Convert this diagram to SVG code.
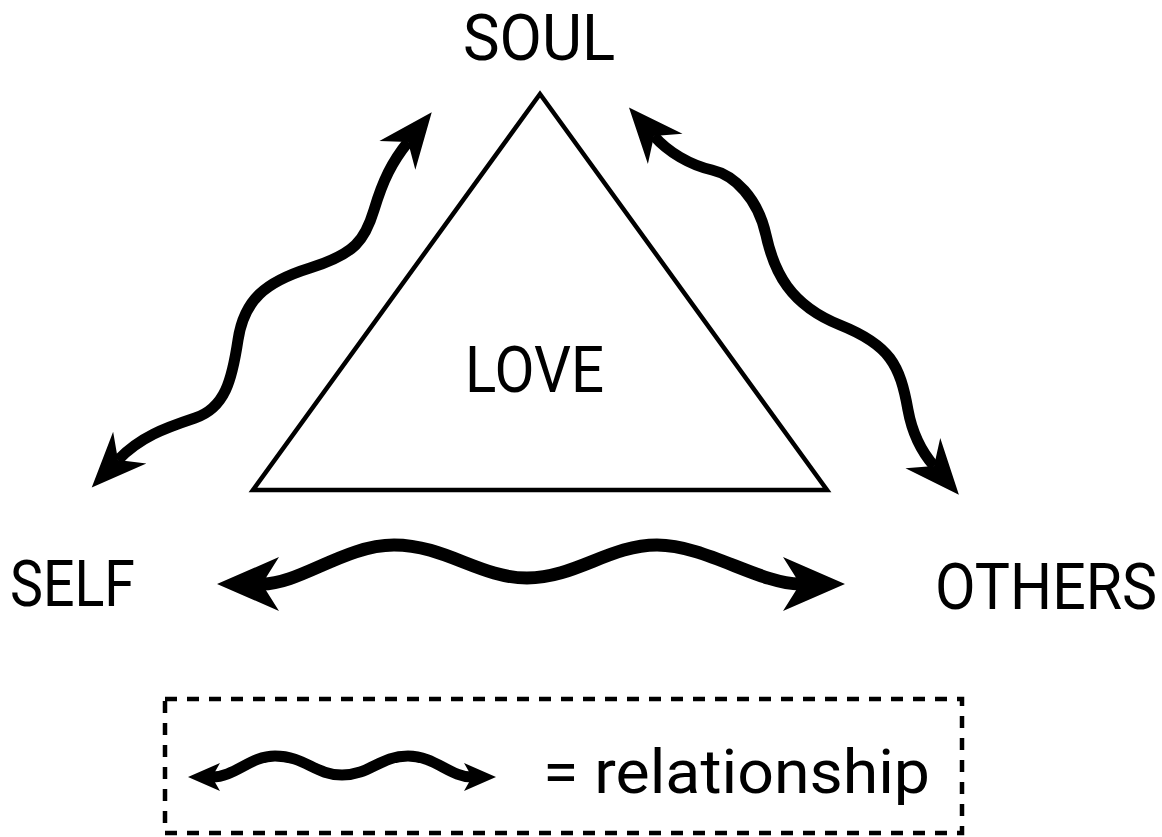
<svg xmlns="http://www.w3.org/2000/svg" width="1162" height="837" viewBox="0 0 1162 837">
  <style>
    .lbl { font-family: Roboto, "Liberation Sans", sans-serif; font-size: 65px; fill: #000; }
    .leg { font-family: Roboto, "Liberation Sans", sans-serif; font-size: 62px; fill: #000; }
    .wave { fill: none; stroke: #000; stroke-width: 11; }
    .wave-big { fill: none; stroke: #000; stroke-width: 13; }
    .wave-small { fill: none; stroke: #000; stroke-width: 11; }
  </style>
  <defs>
    <marker id="ah" markerUnits="userSpaceOnUse" markerWidth="200" markerHeight="200" refX="0" refY="0" orient="auto-start-reverse" overflow="visible">
      <path d="M38,0 L-17,-23 L0,0 L-17,23 Z" fill="#000"/>
    </marker>
    <marker id="ahbig" markerUnits="userSpaceOnUse" markerWidth="200" markerHeight="200" refX="0" refY="0" orient="auto-start-reverse" overflow="visible">
      <path d="M45,0 L-17,-27 L0,0 L-17,27 Z" fill="#000"/>
    </marker>
    <marker id="ahsmall" markerUnits="userSpaceOnUse" markerWidth="100" markerHeight="100" refX="0" refY="0" orient="auto-start-reverse" overflow="visible">
      <path d="M24,0 L-8,-14 L0,0 L-8,14 Z" fill="#000"/>
    </marker>
  </defs>
  <rect width="1162" height="837" fill="#fff"/>

  <g id="love">
    <polygon points="540,94 253,490 827,490" fill="none" stroke="#000" stroke-width="4.5"/>
    <text class="lbl" transform="translate(465,392) scale(0.891,1)" textLength="156" lengthAdjust="spacingAndGlyphs">LOVE</text>
  </g>
  <g id="soul">
    <text class="lbl" style="font-size:64px" transform="translate(463,60) scale(0.975,1)" textLength="156" lengthAdjust="spacingAndGlyphs">SOUL</text>
  </g>
  <g id="self">
    <text class="lbl" transform="translate(10,606) scale(0.862,1)" textLength="145" lengthAdjust="spacingAndGlyphs">SELF</text>
  </g>
  <g id="others">
    <text class="lbl" transform="translate(935,609) scale(0.914,1)" textLength="243" lengthAdjust="spacingAndGlyphs">OTHERS</text>
  </g>

  <g id="connectors">
    <path class="wave" marker-start="url(#ah)" marker-end="url(#ah)" d="M118,460 C140,437 165,428 195,418 S232,380 238,340 S265,282 310,268 S365,240 374,210 S392,162 408,142"/>
    <path class="wave" marker-start="url(#ah)" marker-end="url(#ah)" d="M654,136 C668,152 690,165 712,170 S758,198 766,235 S790,305 840,325 S900,365 908,410 C912,432 921,451 934,466"/>
    <path class="wave-big" marker-start="url(#ahbig)" marker-end="url(#ahbig)" d="M262,584 C300,584 345,545 394,545 C445,545 480,578 527,578 C575,578 610,545 657,545 C705,545 760,584 800,584"/>
  </g>

  <g id="legend">
    <rect x="165" y="699" width="797" height="134" fill="none" stroke="#000" stroke-width="4.5" stroke-dasharray="12 10"/>
    <path class="wave-small" marker-start="url(#ahsmall)" marker-end="url(#ahsmall)" d="M212,777 C235,777 250,756 275,756 C305,756 315,775 342,775 C370,775 380,756 408,756 C435,756 450,777 472,777"/>
    <text class="leg" x="543" y="793" textLength="387" lengthAdjust="spacingAndGlyphs">= relationship</text>
  </g>
</svg>
